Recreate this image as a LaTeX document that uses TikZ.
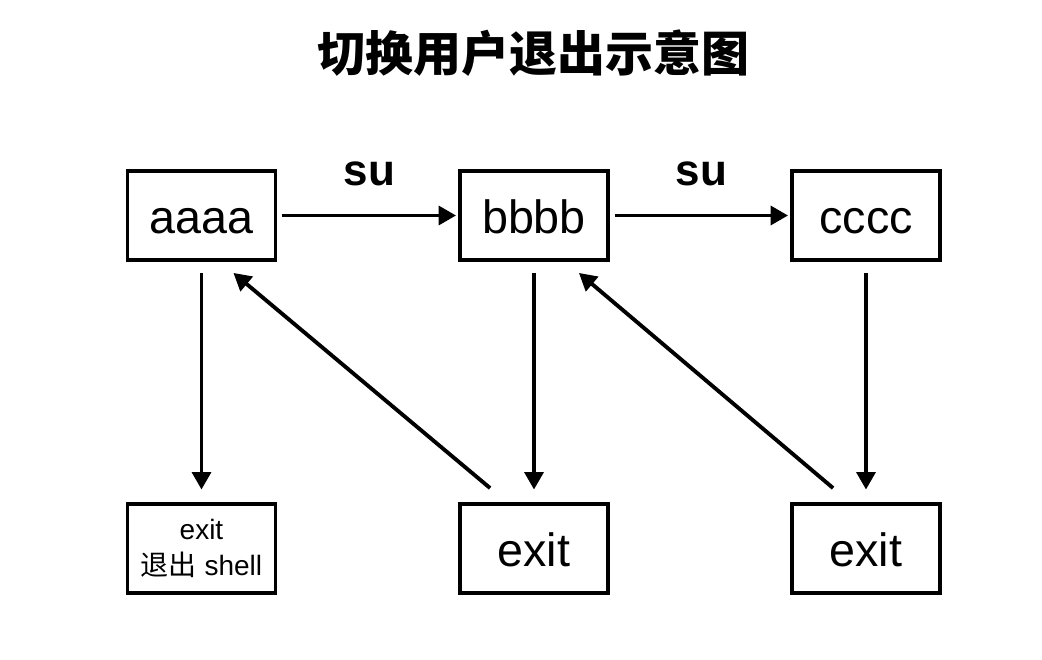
\documentclass[tikz,border=0pt]{standalone}
\usepackage{fontspec}
\setmainfont{Liberation Sans}
\newfontfamily\cjk{Noto Sans CJK SC}
\usetikzlibrary{arrows.meta,calc}

\tikzset{
	frame/.style={draw, line width=2.9pt, minimum width=111pt, minimum height=66.75pt, inner sep=0pt},
	box/.style={frame, font=\fontsize{35}{42}\selectfont, text height=26.25pt, text depth=0pt},
	smallbox/.style={frame, align=center, font=\fontsize{21}{27}\selectfont},
	arr/.style={line width=2.9pt, -{Triangle[length=13pt,width=14pt]}},
	lbl/.style={anchor=base, yshift=22.5pt, font=\bfseries\fontsize{33}{40}\selectfont}
}

\begin{document}
\begin{tikzpicture}[x=0.75pt,y=-0.75pt]
		\useasboundingbox (0,0) rectangle (1042,660);
		\node[font=\cjk\bfseries\fontsize{36}{40}\selectfont] (title) at (533,53) {切换用户退出示意图};
		
		% top row
		\node[box] (aaaa) at (201.5,215.5) {aaaa};
		\node[box] (bbbb) at (534,215.5) {bbbb};
		\node[box] (cccc) at (866,215.5) {cccc};
		
		% bottom row
		\node[smallbox] (exita) at (201.5,548.5) {exit\\{\cjk 退出} shell};
		\node[box] (exitb) at (534,548.5) {exit};
		\node[box] (exitc) at (866,548.5) {exit};
		
		\draw[arr] ([xshift=3.75pt]aaaa.east) -- ([xshift=-1.5pt]bbbb.west) node[midway,lbl] {su};
		\draw[arr] ([xshift=3.75pt]bbbb.east) -- ([xshift=-1.5pt]cccc.west) node[midway,lbl] {su};
		
		\draw[arr] ([yshift=-8.25pt]aaaa.south) -- ([yshift=9.4pt]exita.north);
		\draw[arr] ([yshift=-8.25pt]bbbb.south) -- ([yshift=9.4pt]exitb.north);
		\draw[arr] ([yshift=-8.25pt]cccc.south) -- ([yshift=9.4pt]exitc.north);
		
		\draw[arr] ($(exitb.north west)+(32,-14)$) -- ($(aaaa.south east)+(-44,11)$);
		\draw[arr] ($(exitc.north west)+(43,-14)$) -- ($(bbbb.south east)+(-31,11)$);
\end{tikzpicture}
\end{document}
